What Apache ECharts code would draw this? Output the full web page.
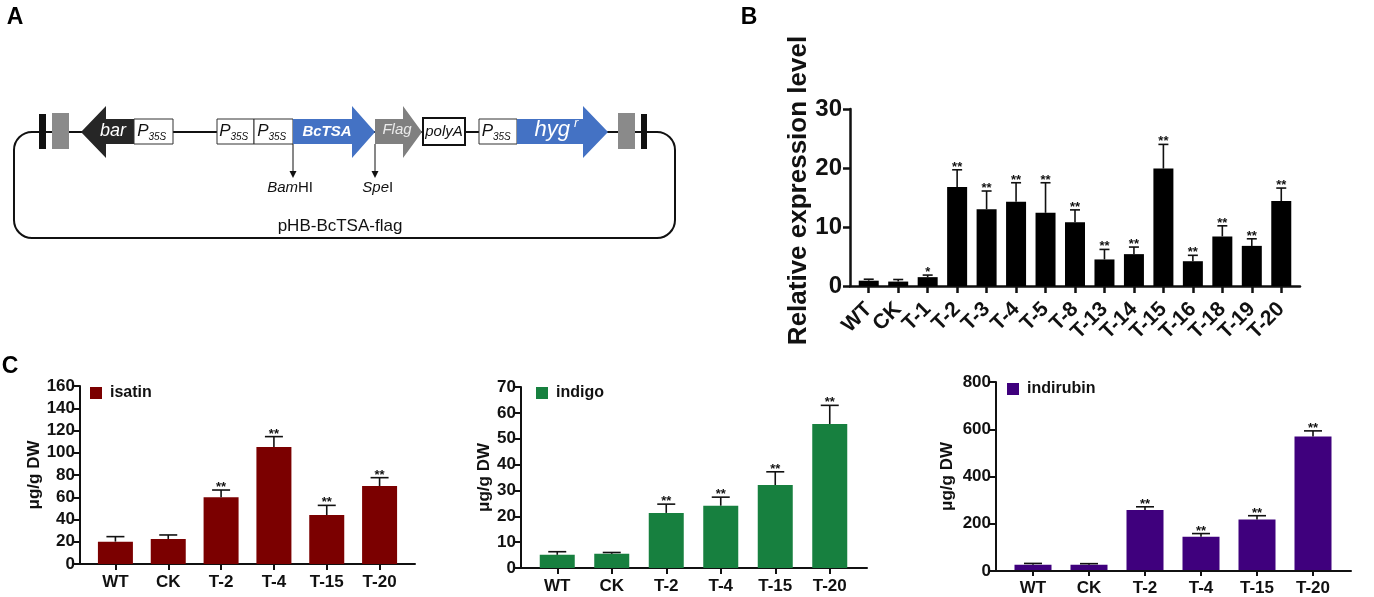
<!DOCTYPE html>
<html><head><meta charset="utf-8">
<script src="https://cdn.jsdelivr.net/npm/echarts@6/dist/echarts.min.js"></script>
<style>html,body{margin:0;padding:0;background:#fff}#c{width:1374px;height:597px}</style>
</head><body><div id="c"></div><script>
const FONT = '"Liberation Sans", Arial, sans-serif';

// ---- Panel B data ----
const bCategories = ['WT','CK','T-1','T-2','T-3','T-4','T-5','T-8','T-13','T-14','T-15','T-16','T-18','T-19','T-20'];
const bMean  = [0.9, 0.75, 1.5, 16.8, 13.0, 14.3, 12.4, 10.8, 4.5, 5.4, 19.9, 4.2, 8.4, 6.8, 14.4];
const bUpper = [1.15, 1.1, 1.85, 19.7, 16.1, 17.5, 17.5, 12.9, 6.2, 6.6, 24.0, 5.2, 10.2, 8.0, 16.6];
const bStars = ['', '', '*', '**', '**', '**', '**', '**', '**', '**', '**', '**', '**', '**', '**'];
const bTicks = [0, 10, 20, 30];

// ---- Panel C data ----
const cCategories = ['WT','CK','T-2','T-4','T-15','T-20'];
const isatinMean  = [20.1, 22.5, 59.9, 105.2, 44.0, 70.1];
const isatinUpper = [24.6, 26.1, 66.5, 114.5, 52.7, 77.6];
const indigoMean  = [5.1, 5.5, 21.3, 24.1, 32.1, 55.7];
const indigoUpper = [6.3, 6.0, 24.7, 27.4, 37.2, 62.9];
const indirubinMean  = [22, 22, 255, 142, 215, 568];
const indirubinUpper = [28, 27, 269, 155, 231, 592];
const cStars = ['', '', '**', '**', '**', '**'];

const panels = [
  {name:'Relative expression level', cats:bCategories, mean:bMean, upper:bUpper, stars:bStars, max:30, interval:10,
   color:'#000', frame:{left:850,width:450,top:109,height:177}, bars:{left:854,width:442},
   barWidth:20, cap:5, axisW:2.5, tickLen:7, yFont:24, xFont:21, rotate:45, xMargin:20, yMargin:8,
   nameFont:26, nameGap:37, namePad:[0,0,0,14], starFont:13, legend:null},
  {name:'μg/g DW', series:'isatin', cats:cCategories, mean:isatinMean, upper:isatinUpper, stars:cStars, max:160, interval:20,
   color:'#7b0000', frame:{left:80,width:335,top:386,height:178}, bars:{left:89,width:317},
   barWidth:35, cap:9, axisW:2, tickLen:6, yFont:17, xFont:17, rotate:0, xMargin:10, yMargin:5,
   nameFont:17, nameGap:37, namePad:0, starFont:13, legend:{left:90, top:385}},
  {name:'μg/g DW', series:'indigo', cats:cCategories, mean:indigoMean, upper:indigoUpper, stars:cStars, max:70, interval:10,
   color:'#17803f', frame:{left:521,width:346,top:387,height:181}, bars:{left:530,width:327},
   barWidth:35, cap:9, axisW:2, tickLen:6, yFont:17, xFont:17, rotate:0, xMargin:10, yMargin:5,
   nameFont:17, nameGap:26, namePad:0, starFont:13, legend:{left:536, top:385}},
  {name:'μg/g DW', series:'indirubin', cats:cCategories, mean:indirubinMean, upper:indirubinUpper, stars:cStars, max:800, interval:200,
   color:'#3f007d', frame:{left:996,width:355,top:382,height:189}, bars:{left:1005,width:336},
   barWidth:37, cap:9, axisW:2, tickLen:6, yFont:17, xFont:17, rotate:0, xMargin:10, yMargin:5,
   nameFont:17, nameGap:40, namePad:0, starFont:13, legend:{left:1007, top:381}}
];

const grid = [], xAxis = [], yAxis = [], series = [], legend = [];
panels.forEach((p, i) => {
  const a = 2*i, b = 2*i+1;
  grid.push({left:p.frame.left, width:p.frame.width, top:p.frame.top, height:p.frame.height});
  grid.push({left:p.bars.left, width:p.bars.width, top:p.frame.top, height:p.frame.height});
  const line = {show:true, lineStyle:{color:'#111', width:p.axisW}};
  xAxis.push({gridIndex:a, type:'category', data:p.cats, axisLine:line, axisTick:{show:false}, axisLabel:{show:false}, splitLine:{show:false}});
  xAxis.push({gridIndex:b, type:'category', data:p.cats, axisLine:{show:false},
    axisTick:{show:true, alignWithLabel:true, length:p.tickLen, lineStyle:{color:'#111', width:p.axisW}},
    axisLabel:{interval:0, rotate:p.rotate, margin:p.xMargin, color:'#111', fontFamily:FONT, fontWeight:'bold', fontSize:p.xFont},
    splitLine:{show:false}});
  yAxis.push({gridIndex:a, type:'value', min:0, max:p.max, interval:p.interval,
    name:p.name, nameLocation:'middle', nameGap:p.nameGap,
    nameTextStyle:{color:'#111', fontFamily:FONT, fontWeight:'bold', fontSize:p.nameFont, padding:p.namePad},
    axisLine:line, axisTick:{show:true, length:p.tickLen, lineStyle:{color:'#111', width:p.axisW}},
    axisLabel:{margin:p.yMargin, color:'#111', fontFamily:FONT, fontWeight:'bold', fontSize:p.yFont},
    splitLine:{show:false}});
  yAxis.push({gridIndex:b, type:'value', min:0, max:p.max, interval:p.interval, show:false, splitLine:{show:false}});
  series.push({type:'bar', name:p.series || 'expr', xAxisIndex:b, yAxisIndex:b, data:p.mean, barWidth:p.barWidth,
    itemStyle:{color:p.color}, silent:true, z:2});
  const errData = p.mean.map((m, k) => [k, m, p.upper[k]]);
  series.push({type:'custom', xAxisIndex:b, yAxisIndex:b, data:errData, z:3, silent:true,
    renderItem:(params, api) => {
      const x = api.value(0), m = api.value(1), u = api.value(2);
      const p0 = api.coord([x, m]), p1 = api.coord([x, u]);
      const st = {stroke:'#111', lineWidth:1.6};
      return {type:'group', children:[
        {type:'line', shape:{x1:p0[0], y1:p0[1], x2:p1[0], y2:p1[1]}, style:st},
        {type:'line', shape:{x1:p1[0]-p.cap, y1:p1[1], x2:p1[0]+p.cap, y2:p1[1]}, style:st},
        {type:'text', x:p1[0], y:p1[1]+4, style:{text:p.stars[params.dataIndex], fill:'#111',
          font:'bold '+p.starFont+'px '+FONT, align:'center', verticalAlign:'bottom', textAlign:'center', textVerticalAlign:'bottom'}}
      ]};
    }});
  if (p.legend) {
    legend.push({data:[p.series], left:p.legend.left, top:p.legend.top, padding:0, icon:'rect', itemWidth:12, itemHeight:12,
      selectedMode:false, textStyle:{color:'#111', fontFamily:FONT, fontWeight:'bold', fontSize:16, padding:[0,0,0,3]}});
  }
});

// ---- Panel A: plasmid schematic ----
const BLUE = '#4472c4', DARK = '#262626', GREY = '#808080', RECTG = '#8a8a8a';
function rArrow(x0, xh, xt){ return [[x0,119],[xh,119],[xh,106],[xt,132],[xh,158],[xh,144],[x0,144]]; }
function txt(t, x, y, font, fill, align){
  return {type:'text', x:x, y:y, z:20, style:{text:t, font:font, fill:fill||'#111', align:align||'center', verticalAlign:'middle',
    textAlign:align||'center', textVerticalAlign:'middle'}};
}
function p35(x0, x1){
  const cx = (x0+x1)/2;
  return [
    {type:'rect', z:10, shape:{x:x0, y:119, width:x1-x0, height:25}, style:{fill:'#fff', stroke:'#333', lineWidth:1}},
    txt('P', cx-5, 131, 'italic 17px '+FONT, '#111', 'right'),
    txt('35S', cx-5, 137, 'italic 10px '+FONT, '#111', 'left')
  ];
}
const graphic = [
  {type:'rect', z:1, shape:{x:14, y:132, width:661, height:106, r:18}, style:{fill:'none', stroke:'#111', lineWidth:2}},
  {type:'rect', z:10, shape:{x:39, y:114, width:7, height:35}, style:{fill:'#111'}},
  {type:'rect', z:10, shape:{x:52, y:113, width:17, height:36}, style:{fill:RECTG}},
  {type:'rect', z:10, shape:{x:618, y:113, width:17, height:36}, style:{fill:RECTG}},
  {type:'rect', z:10, shape:{x:641, y:114, width:6, height:35}, style:{fill:'#111'}},
  {type:'polygon', z:10, shape:{points:[[134,119],[106,119],[106,106],[81,132],[106,158],[106,144],[134,144]]}, style:{fill:DARK}},
  ...p35(134,173), ...p35(217,254), ...p35(254,293), ...p35(479,517),
  {type:'polygon', z:10, shape:{points:rArrow(293,352,375)}, style:{fill:BLUE}},
  {type:'polygon', z:10, shape:{points:rArrow(375,403,422)}, style:{fill:GREY}},
  {type:'rect', z:10, shape:{x:423, y:118, width:42, height:27}, style:{fill:'#fff', stroke:'#111', lineWidth:2}},
  {type:'polygon', z:10, shape:{points:rArrow(517,583,608)}, style:{fill:BLUE}},
  txt('bar', 113, 131, 'italic 18px '+FONT, '#fff'),
  txt('BcTSA', 327, 132, 'italic bold 15px '+FONT, '#fff'),
  txt('Flag', 397, 130, 'italic 15px '+FONT, '#eaeaea'),
  txt('polyA', 444, 132, 'italic 15px '+FONT, '#111'),
  txt('hyg', 570, 130, 'italic 22px '+FONT, '#fff', 'right'),
  txt('r', 574, 123, 'italic 13px '+FONT, '#fff', 'left'),
  {type:'line', z:10, shape:{x1:293, y1:144, x2:293, y2:172}, style:{stroke:'#111', lineWidth:1}},
  {type:'polygon', z:10, shape:{points:[[289.5,171],[296.5,171],[293,178]]}, style:{fill:'#111'}},
  {type:'line', z:10, shape:{x1:375, y1:144, x2:375, y2:172}, style:{stroke:'#111', lineWidth:1}},
  {type:'polygon', z:10, shape:{points:[[371.5,171],[378.5,171],[375,178]]}, style:{fill:'#111'}},
  txt('Bam', 298, 188, 'italic 15px '+FONT, '#111', 'right'),
  txt('HI', 298, 188, '15px '+FONT, '#111', 'left'),
  txt('Spe', 389, 188, 'italic 15px '+FONT, '#111', 'right'),
  txt('I', 389, 188, '15px '+FONT, '#111', 'left'),
  txt('pHB-BcTSA-flag', 340, 226, '17px '+FONT, '#111'),
  txt('A', 15, 18, 'bold 23px '+FONT, '#000'),
  txt('B', 749, 18, 'bold 23px '+FONT, '#000'),
  txt('C', 10, 367, 'bold 23px '+FONT, '#000')
];

const chart = echarts.init(document.getElementById('c'), null, {renderer:'canvas'});
chart.setOption({animation:false, backgroundColor:'#fff', grid, xAxis, yAxis, series, legend, graphic:{elements:graphic}});
</script></body></html>
